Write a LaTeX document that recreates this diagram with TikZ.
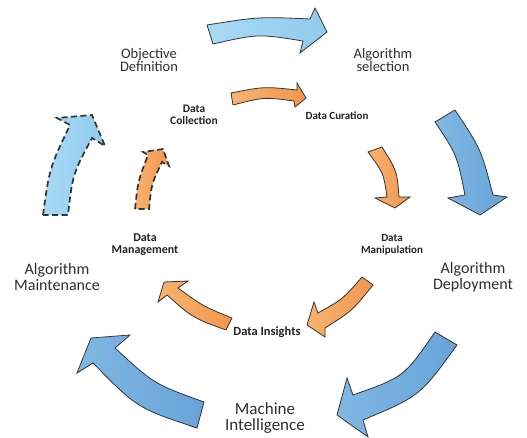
\documentclass[tikz,border=0pt]{standalone}
\usepackage{fontspec}
\setmainfont{Carlito}
\definecolor{lbA}{HTML}{A8DAF5}
\definecolor{lbB}{HTML}{92CAEE}
\definecolor{dbA}{HTML}{80B8E4}
\definecolor{dbB}{HTML}{68A4D9}
\definecolor{orA}{HTML}{F7B370}
\definecolor{orB}{HTML}{F2964E}
\definecolor{txt}{HTML}{2E2E2E}
\definecolor{btxt}{HTML}{222222}
\tikzset{
  blk/.style={draw=black!80, line width=0.8pt, line join=miter},
  lblue/.style={blk, left color=lbA, right color=lbB},
  dblue/.style={blk, left color=dbA, right color=dbB},
  orng/.style={blk, left color=orA, right color=orB},
  dsh/.style={line width=1.7pt, dash pattern=on 6pt off 3.5pt},
  bigl/.style={text=txt, align=center, inner sep=0pt},
  smalll/.style={text=btxt, align=center, inner sep=0pt, font=\bfseries\fontsize{11}{11.7}\selectfont}
}
\begin{document}
\begin{tikzpicture}[x=1pt,y=-1pt]
\useasboundingbox (0,0) rectangle (527,438);
% outer blue ring
\draw[lblue] (207,25) .. controls (259,16.7) .. (310,19) -- (315,8) -- (327,32) -- (300,53) -- (303,41) .. controls (258,33.8) .. (213,44) -- cycle;
\draw[dblue] (455,110) .. controls (481,149) .. (493,195) -- (507,197) -- (480,215) -- (448,198) -- (465,195) .. controls (457,155) .. (435,122) -- cycle;
\draw[dblue] (457,345) .. controls (420,396) .. (363,420) -- (368,437) -- (337,415) -- (347,378) -- (353,395) .. controls (404,377) .. (435,332) -- cycle;
\draw[dblue] (197,428) .. controls (137,408) .. (93,363) -- (77,373) -- (91,338) -- (130,335) -- (115,348) .. controls (154,384) .. (204,402) -- cycle;
\draw[lblue,dsh] (43,215) .. controls (49.5,168) .. (70,125) -- (57,118) -- (92,115) -- (105,146) -- (92,138) .. controls (72.7,174) .. (68,215) -- cycle;
% inner orange ring
\draw[orng] (231,93) .. controls (264,86.5) .. (297,90) -- (297,83) -- (306,98) -- (295,107) -- (294,101) .. controls (264,97) .. (233,105) -- cycle;
\draw[orng] (382,147) .. controls (397,171) .. (399,197) -- (410,197) -- (395,208) -- (375,198) -- (387,197) .. controls (383.5,173) .. (368,152) -- cycle;
\draw[orng] (373,285) .. controls (352,311) .. (325,328) -- (325,337) -- (307,325) -- (314,302) -- (318,313) .. controls (343,299) .. (362,277) -- cycle;
\draw[orng] (226,330) .. controls (193,318) .. (167,295) -- (158,302) -- (164,282) -- (188,281) -- (178,288) .. controls (203.5,306.5) .. (232,318) -- cycle;
\draw[orng,dsh] (135,209) .. controls (138,181) .. (148,155) -- (143,152) -- (163,149) -- (169,166) -- (162,162) .. controls (151.5,184) .. (149,209) -- cycle;
% labels
\node[bigl, font=\fontsize{14.5}{13.7}\selectfont] (obj) at (149,60) {Objective\\Definition};
\node[bigl, font=\fontsize{14.5}{13.7}\selectfont] (sel) at (383,60) {Algorithm\\selection};
\node[bigl, font=\fontsize{16}{16.5}\selectfont] (mnt) at (57,277) {Algorithm\\Maintenance};
\node[bigl, font=\fontsize{16}{16.5}\selectfont] (dep) at (473,277) {Algorithm\\Deployment};
\node[bigl, font=\fontsize{17}{16.6}\selectfont] (mi) at (265,418) {Machine\\Intelligence};
\node[smalll, font=\bfseries\fontsize{11.5}{11.7}\selectfont] (col) at (194,115) {Data\\Collection};
\node[smalll] (cur) at (337,116) {Data Curation};
\node[smalll] (man) at (392,245) {Data\\Manipulation};
\node[smalll, font=\bfseries\fontsize{12}{12}\selectfont] (mgt) at (145,245) {Data\\Management};
\node[smalll, font=\bfseries\fontsize{12.5}{12.5}\selectfont] (ins) at (267,332) {Data Insights};
\end{tikzpicture}
\end{document}
